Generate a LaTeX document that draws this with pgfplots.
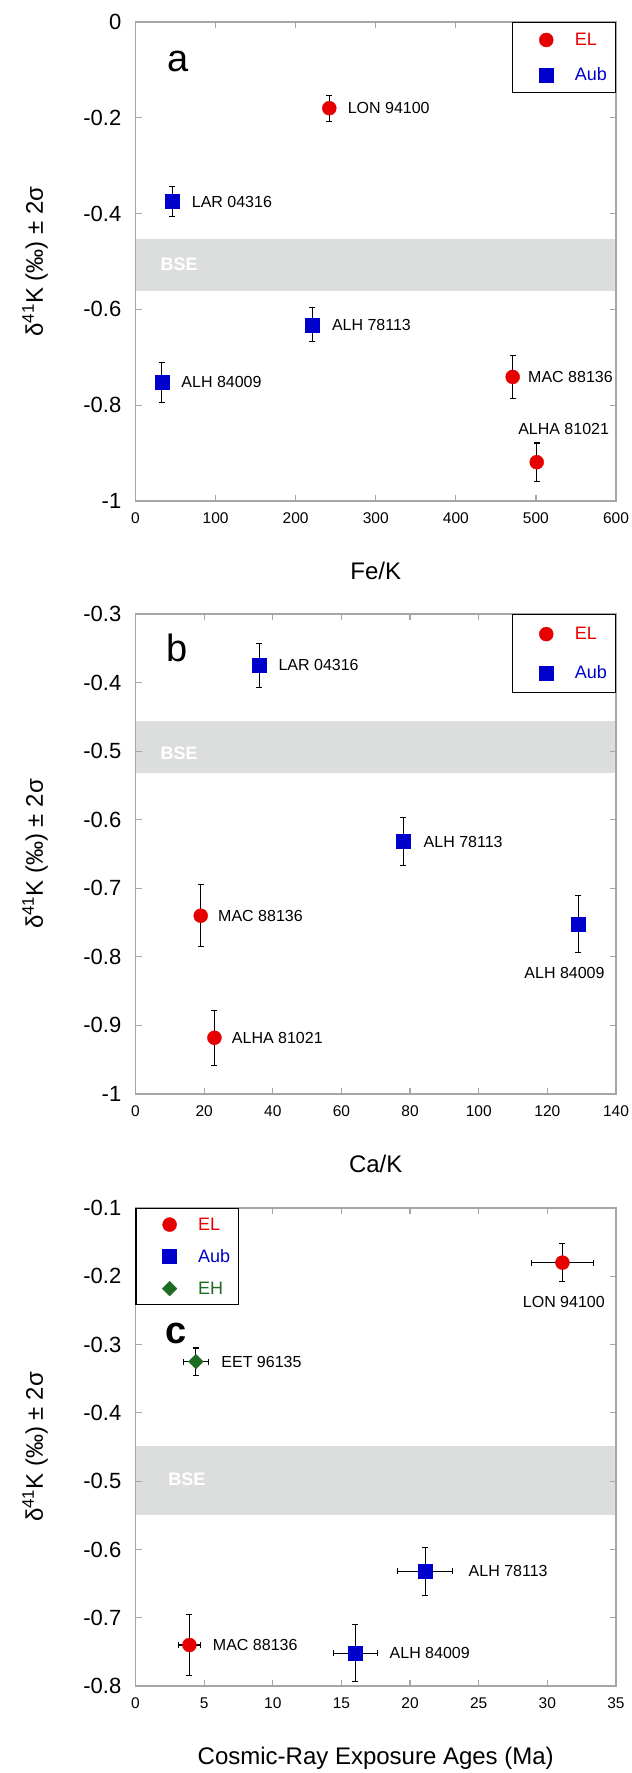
\documentclass[border=0pt]{standalone}
\usepackage{fontspec}
\setmainfont{Liberation Sans}
\usepackage{pgfplots}
\pgfplotsset{compat=1.18}
\definecolor{elred}{HTML}{E60000}
\definecolor{aubblue}{HTML}{0000CC}
\definecolor{ehgreen}{HTML}{1E6B23}
\definecolor{bsegray}{HTML}{DCDDDD}
\definecolor{axgray}{HTML}{A6A6A6}
\newcommand\lblfont{\fontsize{16}{16}\selectfont}
\newcommand\bsefont{\fontsize{18}{18}\selectfont\bfseries}
\newcommand\letfont{\fontsize{38}{38}\selectfont}
\pgfplotsset{
 panel/.style={
  scale only axis, width=480.5pt,
  axis line style={axgray, line width=1.2pt},
  major tick style={axgray, line width=1.2pt},
  tick align=inside, major tick length=6pt,
  /pgf/number format/assume math mode=true,
  every tick label/.append style={inner sep=0pt, text=black},
  yticklabel style={font=\fontsize{22}{22}\selectfont, xshift=-14pt},
  xticklabel style={font=\fontsize{15.5}{15.5}\selectfont, yshift=-11.5pt},
  ylabel={δ\textsuperscript{41}K (‰) ± 2σ},
  every axis y label/.style={at={(axis description cs:0,0.5)}, xshift=-100.5pt, rotate=90, anchor=center, font=\fontsize{24}{24}\selectfont},
  every axis x label/.style={at={(axis description cs:0.5,0)}, anchor=center, yshift=-70pt, font=\fontsize{24}{24}\selectfont},
  clip=false,
  axis on top,
  legend cell align=left,
  legend style={draw=black, line width=1.2pt, inner xsep=0pt, inner ysep=0pt, row sep=0pt, font=\fontsize{18}{18}\selectfont, nodes={inner sep=0pt}},
 },
 legimg/.style={legend image code/.code={\path[draw=none, fill=none] (-33.5pt,-#1) rectangle (28.5pt,#1); \draw[##1] plot coordinates {(0pt,0pt)};}},
 el/.style={only marks, mark=*, mark size=7pt, color=elred, mark options={line width=0.4pt}},
 aub/.style={only marks, mark=square*, mark size=7pt, color=aubblue, mark options={line width=0.4pt}},
 eh/.style={only marks, mark=square*, mark size=5.2pt, color=ehgreen, mark options={rotate=45, line width=0.4pt}},
 erry/.style={error bars/.cd, y dir=both, y explicit, error bar style={black, line width=1.1pt}, error mark options={rotate=90, black, mark size=3pt, line width=1.1pt}},
 errxy/.style={error bars/.cd, y dir=both, y explicit, x dir=both, x explicit, error bar style={black, line width=1.1pt}, error mark options={rotate=90, black, mark size=3pt, line width=1.1pt}},
}
\begin{document}
\begin{tikzpicture}
\useasboundingbox (0pt,0pt) rectangle (632pt,1773pt);
% ---------------- panel a
\begin{axis}[panel, at={(135.5pt,1272pt)}, anchor=south west, height=479pt,
  xmin=0, xmax=600, ymin=-1, ymax=0,
  xtick={0,100,200,300,400,500,600}, xticklabels={0,100,200,300,400,500,600},
  ytick={-1,-0.8,-0.6,-0.4,-0.2,0}, yticklabels={-1,-0.8,-0.6,-0.4,-0.2,0},
  xlabel={Fe/K},
  legend style={at={(1,1)}, anchor=north east}]
\addplot[draw=none, fill=bsegray, forget plot] coordinates {(0,-0.454) (600,-0.454) (600,-0.562) (0,-0.562)};
\addplot[el, legimg=17.4pt, erry] table[x=x, y=y, y error=ey] {
x y ey
242 -0.180 0.027
471 -0.741 0.045
501 -0.919 0.040
};
\addlegendentry{\textcolor{elred}{EL}\kern8.6pt}
\addplot[aub, legimg=17.4pt, erry] table[x=x, y=y, y error=ey] {
x y ey
46 -0.375 0.032
221 -0.632 0.035
33 -0.752 0.042
};
\addlegendentry{\textcolor{aubblue}{Aub}\kern8.6pt}
\node[anchor=west, font=\bsefont, text=white] at (axis cs:27,-0.506) {BSE};
\node[font=\letfont] at (axis cs:52.7,-0.0814) {a};
\node[anchor=west, font=\lblfont, xshift=15pt] at (axis cs:242,-0.180) {LON 94100};
\node[anchor=west, font=\lblfont, xshift=16pt] at (axis cs:46,-0.375) {LAR 04316};
\node[anchor=west, font=\lblfont, xshift=16pt] at (axis cs:221,-0.632) {ALH 78113};
\node[anchor=west, font=\lblfont, xshift=16pt] at (axis cs:33,-0.752) {ALH 84009};
\node[anchor=west, font=\lblfont, xshift=12pt] at (axis cs:471,-0.741) {MAC 88136};
\node[font=\lblfont] at (axis cs:534.6,-0.849) {ALHA 81021};
\end{axis}
% ---------------- panel b
\begin{axis}[panel, at={(135.5pt,679pt)}, anchor=south west, height=480pt,
  xmin=0, xmax=140, ymin=-1, ymax=-0.3,
  xtick={0,20,40,60,80,100,120,140}, xticklabels={0,20,40,60,80,100,120,140},
  ytick={-1,-0.9,-0.8,-0.7,-0.6,-0.5,-0.4,-0.3}, yticklabels={-1,-0.9,-0.8,-0.7,-0.6,-0.5,-0.4,-0.3},
  xlabel={Ca/K},
  legend style={at={(1,1)}, anchor=north east}]
\addplot[draw=none, fill=bsegray, forget plot] coordinates {(0,-0.456) (140,-0.456) (140,-0.532) (0,-0.532)};
\addplot[el, legimg=19.5pt, erry] table[x=x, y=y, y error=ey] {
x y ey
19 -0.740 0.045
23 -0.918 0.040
};
\addlegendentry{\textcolor{elred}{EL}\kern8.6pt}
\addplot[aub, legimg=19.5pt, erry] table[x=x, y=y, y error=ey] {
x y ey
36 -0.375 0.032
78 -0.632 0.035
129 -0.752 0.042
};
\addlegendentry{\textcolor{aubblue}{Aub}\kern8.6pt}
\node[anchor=west, font=\bsefont, text=white] at (axis cs:6.3,-0.503) {BSE};
\node[font=\letfont] at (axis cs:12.2,-0.349) {b};
\node[anchor=west, font=\lblfont, xshift=16pt] at (axis cs:36,-0.375) {LAR 04316};
\node[anchor=west, font=\lblfont, xshift=17pt] at (axis cs:78,-0.632) {ALH 78113};
\node[font=\lblfont] at (axis cs:125,-0.824) {ALH 84009};
\node[anchor=west, font=\lblfont, xshift=14pt] at (axis cs:19,-0.740) {MAC 88136};
\node[anchor=west, font=\lblfont, xshift=14pt] at (axis cs:23,-0.918) {ALHA 81021};
\end{axis}
% ---------------- panel c
\begin{axis}[panel, at={(135.5pt,87pt)}, anchor=south west, height=478pt,
  xmin=0, xmax=35, ymin=-0.8, ymax=-0.1,
  xtick={0,5,10,15,20,25,30,35}, xticklabels={0,5,10,15,20,25,30,35},
  ytick={-0.8,-0.7,-0.6,-0.5,-0.4,-0.3,-0.2,-0.1}, yticklabels={-0.8,-0.7,-0.6,-0.5,-0.4,-0.3,-0.2,-0.1},
  xlabel={Cosmic-Ray Exposure Ages (Ma)},
  every axis x label/.append style={yshift=-2pt},
  legend style={at={(0,1)}, anchor=north west}]
\addplot[draw=none, fill=bsegray, forget plot] coordinates {(0,-0.448) (35,-0.448) (35,-0.549) (0,-0.549)};
\addplot[el, legimg=16pt, errxy] table[x=x, y=y, x error=ex, y error=ey] {
x y ex ey
31.1 -0.180 2.23 0.028
3.93 -0.740 0.80 0.045
};
\addlegendentry{\textcolor{elred}{EL}\kern8.6pt}
\addplot[aub, legimg=16pt, errxy] table[x=x, y=y, x error=ex, y error=ey] {
x y ex ey
21.1 -0.632 2.0 0.035
16.0 -0.752 1.6 0.042
};
\addlegendentry{\textcolor{aubblue}{Aub}\kern8.6pt}
\addplot[eh, legimg=16pt, errxy] table[x=x, y=y, x error=ex, y error=ey] {
x y ex ey
4.4 -0.325 0.9 0.020
};
\addlegendentry{\textcolor{ehgreen}{EH}\kern8.6pt}
\node[anchor=west, font=\bsefont, text=white] at (axis cs:2.13,-0.498) {BSE};
\node[font=\letfont\bfseries] at (axis cs:2.93,-0.283) {c};
\node[font=\lblfont] at (axis cs:31.2,-0.238) {LON 94100};
\node[anchor=west, font=\lblfont, xshift=22pt] at (axis cs:4.4,-0.325) {EET 96135};
\node[anchor=west, font=\lblfont, xshift=40pt] at (axis cs:21.1,-0.632) {ALH 78113};
\node[anchor=west, font=\lblfont, xshift=31pt] at (axis cs:16.0,-0.752) {ALH 84009};
\node[anchor=west, font=\lblfont, xshift=20pt] at (axis cs:3.93,-0.740) {MAC 88136};
\end{axis}
\end{tikzpicture}
\end{document}
